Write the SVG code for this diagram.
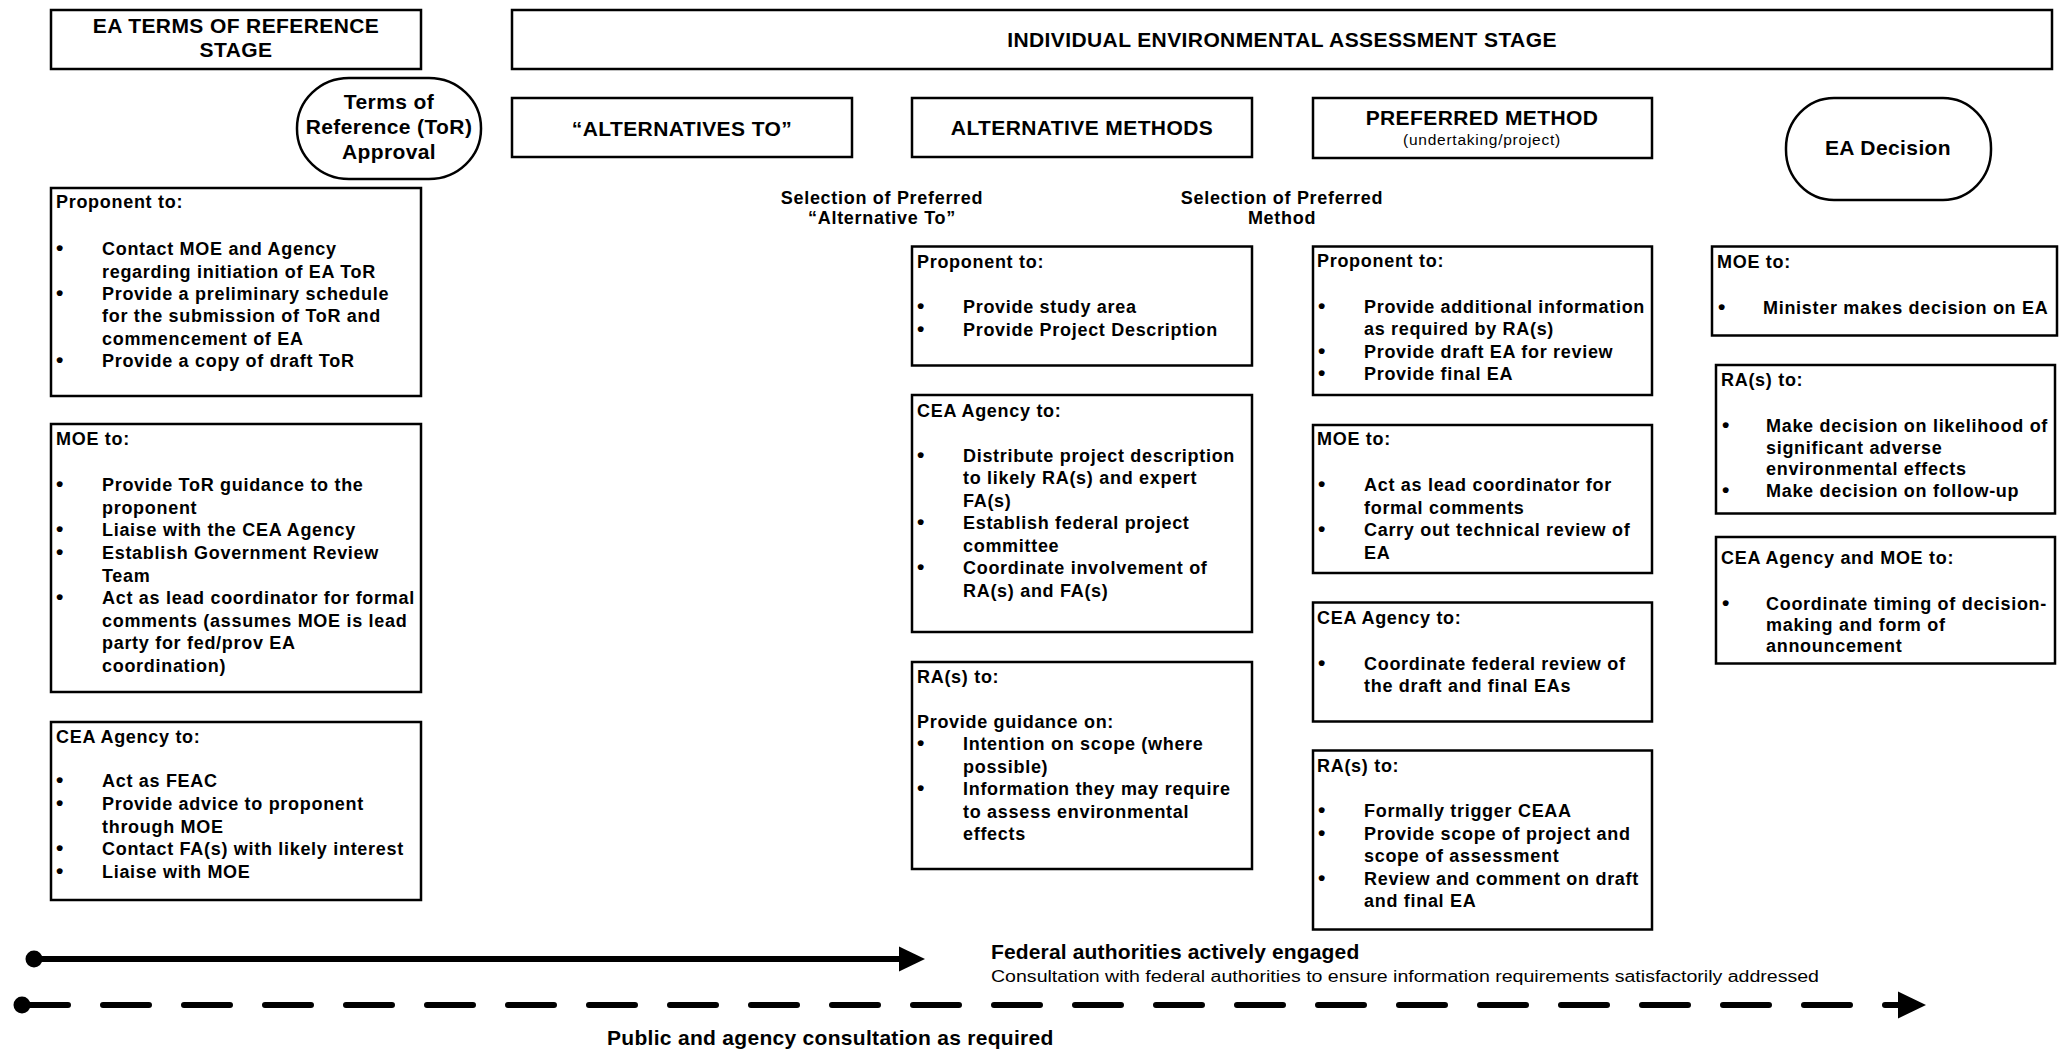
<svg xmlns="http://www.w3.org/2000/svg" width="2059" height="1051" viewBox="0 0 2059 1051">
<style>
.box{fill:#fff;stroke:#000;stroke-width:2.5}
.t{font-family:"Liberation Sans",Arial,sans-serif;font-weight:bold;font-size:18px;letter-spacing:0.7px;fill:#000}
.t .bu{font-size:21px}
.h{font-family:"Liberation Sans",Arial,sans-serif;font-weight:bold;font-size:21px;letter-spacing:0.4px;fill:#000}
.r{font-family:"Liberation Sans",Arial,sans-serif;font-weight:normal;fill:#000}
.mid{text-anchor:middle}
.line{stroke:#000;stroke-width:6;fill:none}
</style>
<rect width="2059" height="1051" fill="#fff"/>

<g id="tor-stage">
<rect class="box" x="51" y="10" width="370" height="59"/>
<text class="h mid"><tspan x="236" y="33">EA TERMS OF REFERENCE</tspan><tspan x="236" y="57">STAGE</tspan></text>
</g>

<g id="individual-stage">
<rect class="box" x="512" y="10" width="1540" height="59"/>
<text class="h mid" x="1282" y="47">INDIVIDUAL ENVIRONMENTAL ASSESSMENT STAGE</text>
</g>

<g id="tor-approval">
<rect class="box" x="297" y="78" width="184" height="101" rx="52" ry="50"/>
<text class="h mid"><tspan x="389" y="109">Terms of</tspan><tspan x="389" y="134">Reference (ToR)</tspan><tspan x="389" y="159">Approval</tspan></text>
</g>

<g id="alternatives-to">
<rect class="box" x="512" y="98" width="340" height="59"/>
<text class="h mid" x="682" y="136">“ALTERNATIVES TO”</text>
</g>

<g id="alternative-methods">
<rect class="box" x="912" y="98" width="340" height="59"/>
<text class="h mid" x="1082" y="135">ALTERNATIVE METHODS</text>
</g>

<g id="preferred-method">
<rect class="box" x="1313" y="98" width="339" height="60"/>
<text class="h mid" x="1482" y="125">PREFERRED METHOD</text>
<text class="r mid" x="1482" y="145" style="font-size:15.5px;letter-spacing:0.75px">(undertaking/project)</text>
</g>

<g id="ea-decision">
<rect class="box" x="1786" y="98" width="205" height="102" rx="48" ry="50"/>
<text class="h mid" x="1888" y="155">EA Decision</text>
</g>

<g id="selection-alt-to">
<text class="t mid"><tspan x="882" y="204">Selection of Preferred</tspan><tspan x="882" y="224">“Alternative To”</tspan></text>
</g>

<g id="selection-method">
<text class="t mid"><tspan x="1282" y="204">Selection of Preferred</tspan><tspan x="1282" y="224">Method</tspan></text>
</g>

<!-- Column 1 -->
<g id="tor-proponent">
<rect class="box" x="51" y="188" width="370" height="208"/>
<text class="t">
<tspan x="56" y="208">Proponent to:</tspan>
<tspan class="bu" x="56" y="255">•</tspan><tspan x="102" y="255">Contact MOE and Agency</tspan>
<tspan x="102" y="277.5">regarding initiation of EA ToR</tspan>
<tspan class="bu" x="56" y="300">•</tspan><tspan x="102" y="300">Provide a preliminary schedule</tspan>
<tspan x="102" y="322">for the submission of ToR and</tspan>
<tspan x="102" y="344.5">commencement of EA</tspan>
<tspan class="bu" x="56" y="367">•</tspan><tspan x="102" y="367">Provide a copy of draft ToR</tspan>
</text>
</g>

<g id="tor-moe">
<rect class="box" x="51" y="424" width="370" height="268"/>
<text class="t">
<tspan x="56" y="445">MOE to:</tspan>
<tspan class="bu" x="56" y="491">•</tspan><tspan x="102" y="491">Provide ToR guidance to the</tspan>
<tspan x="102" y="513.5">proponent</tspan>
<tspan class="bu" x="56" y="536">•</tspan><tspan x="102" y="536">Liaise with the CEA Agency</tspan>
<tspan class="bu" x="56" y="559">•</tspan><tspan x="102" y="559">Establish Government Review</tspan>
<tspan x="102" y="581.5">Team</tspan>
<tspan class="bu" x="56" y="604">•</tspan><tspan x="102" y="604">Act as lead coordinator for formal</tspan>
<tspan x="102" y="626.5">comments (assumes MOE is lead</tspan>
<tspan x="102" y="649">party for fed/prov EA</tspan>
<tspan x="102" y="672">coordination)</tspan>
</text>
</g>

<g id="tor-cea">
<rect class="box" x="51" y="722" width="370" height="178"/>
<text class="t">
<tspan x="56" y="743">CEA Agency to:</tspan>
<tspan class="bu" x="56" y="787">•</tspan><tspan x="102" y="787">Act as FEAC</tspan>
<tspan class="bu" x="56" y="810">•</tspan><tspan x="102" y="810">Provide advice to proponent</tspan>
<tspan x="102" y="832.5">through MOE</tspan>
<tspan class="bu" x="56" y="855">•</tspan><tspan x="102" y="855">Contact FA(s) with likely interest</tspan>
<tspan class="bu" x="56" y="877.5">•</tspan><tspan x="102" y="877.5">Liaise with MOE</tspan>
</text>
</g>

<!-- Column 2 -->
<g id="alt-proponent">
<rect class="box" x="912" y="246.5" width="340" height="119"/>
<text class="t">
<tspan x="917" y="268">Proponent to:</tspan>
<tspan class="bu" x="917" y="313">•</tspan><tspan x="963" y="313">Provide study area</tspan>
<tspan class="bu" x="917" y="335.5">•</tspan><tspan x="963" y="335.5">Provide Project Description</tspan>
</text>
</g>

<g id="alt-cea">
<rect class="box" x="912" y="395" width="340" height="237"/>
<text class="t">
<tspan x="917" y="416.5">CEA Agency to:</tspan>
<tspan class="bu" x="917" y="461.5">•</tspan><tspan x="963" y="461.5">Distribute project description</tspan>
<tspan x="963" y="484">to likely RA(s) and expert</tspan>
<tspan x="963" y="506.5">FA(s)</tspan>
<tspan class="bu" x="917" y="529">•</tspan><tspan x="963" y="529">Establish federal project</tspan>
<tspan x="963" y="551.5">committee</tspan>
<tspan class="bu" x="917" y="574">•</tspan><tspan x="963" y="574">Coordinate involvement of</tspan>
<tspan x="963" y="596.5">RA(s) and FA(s)</tspan>
</text>
</g>

<g id="alt-ra">
<rect class="box" x="912" y="662" width="340" height="207"/>
<text class="t">
<tspan x="917" y="683">RA(s) to:</tspan>
<tspan x="917" y="727.5">Provide guidance on:</tspan>
<tspan class="bu" x="917" y="750">•</tspan><tspan x="963" y="750">Intention on scope (where</tspan>
<tspan x="963" y="772.5">possible)</tspan>
<tspan class="bu" x="917" y="795">•</tspan><tspan x="963" y="795">Information they may require</tspan>
<tspan x="963" y="817.5">to assess environmental</tspan>
<tspan x="963" y="840">effects</tspan>
</text>
</g>

<!-- Column 3 -->
<g id="pref-proponent">
<rect class="box" x="1313" y="246.5" width="339" height="148.5"/>
<text class="t">
<tspan x="1317" y="266.5">Proponent to:</tspan>
<tspan class="bu" x="1318" y="312.5">•</tspan><tspan x="1364" y="312.5">Provide additional information</tspan>
<tspan x="1364" y="335">as required by RA(s)</tspan>
<tspan class="bu" x="1318" y="357.5">•</tspan><tspan x="1364" y="357.5">Provide draft EA for review</tspan>
<tspan class="bu" x="1318" y="380">•</tspan><tspan x="1364" y="380">Provide final EA</tspan>
</text>
</g>

<g id="pref-moe">
<rect class="box" x="1313" y="425" width="339" height="148"/>
<text class="t">
<tspan x="1317" y="445">MOE to:</tspan>
<tspan class="bu" x="1318" y="491">•</tspan><tspan x="1364" y="491">Act as lead coordinator for</tspan>
<tspan x="1364" y="513.5">formal comments</tspan>
<tspan class="bu" x="1318" y="536">•</tspan><tspan x="1364" y="536">Carry out technical review of</tspan>
<tspan x="1364" y="558.5">EA</tspan>
</text>
</g>

<g id="pref-cea">
<rect class="box" x="1313" y="602.5" width="339" height="119"/>
<text class="t">
<tspan x="1317" y="623.5">CEA Agency to:</tspan>
<tspan class="bu" x="1318" y="669.5">•</tspan><tspan x="1364" y="669.5">Coordinate federal review of</tspan>
<tspan x="1364" y="692">the draft and final EAs</tspan>
</text>
</g>

<g id="pref-ra">
<rect class="box" x="1313" y="750.5" width="339" height="179"/>
<text class="t">
<tspan x="1317" y="771.5">RA(s) to:</tspan>
<tspan class="bu" x="1318" y="817">•</tspan><tspan x="1364" y="817">Formally trigger CEAA</tspan>
<tspan class="bu" x="1318" y="840">•</tspan><tspan x="1364" y="840">Provide scope of project and</tspan>
<tspan x="1364" y="862">scope of assessment</tspan>
<tspan class="bu" x="1318" y="885">•</tspan><tspan x="1364" y="885">Review and comment on draft</tspan>
<tspan x="1364" y="907">and final EA</tspan>
</text>
</g>

<!-- Column 4 -->
<g id="dec-moe">
<rect class="box" x="1712" y="246.5" width="345" height="89"/>
<text class="t">
<tspan x="1717" y="267.5">MOE to:</tspan>
<tspan class="bu" x="1718" y="313.5">•</tspan><tspan x="1763" y="313.5">Minister makes decision on EA</tspan>
</text>
</g>

<g id="dec-ra">
<rect class="box" x="1716" y="365" width="339" height="148.5"/>
<text class="t">
<tspan x="1721" y="386">RA(s) to:</tspan>
<tspan class="bu" x="1722" y="432">•</tspan><tspan x="1766" y="432">Make decision on likelihood of</tspan>
<tspan x="1766" y="453.5">significant adverse</tspan>
<tspan x="1766" y="475">environmental effects</tspan>
<tspan class="bu" x="1722" y="497">•</tspan><tspan x="1766" y="497">Make decision on follow-up</tspan>
</text>
</g>

<g id="dec-cea-moe">
<rect class="box" x="1716" y="537" width="339" height="126.5"/>
<text class="t">
<tspan x="1721" y="564">CEA Agency and MOE to:</tspan>
<tspan class="bu" x="1722" y="610">•</tspan><tspan x="1766" y="610">Coordinate timing of decision-</tspan>
<tspan x="1766" y="631">making and form of</tspan>
<tspan x="1766" y="652">announcement</tspan>
</text>
</g>

<!-- Timeline connectors -->
<g id="connectors">
<circle cx="34" cy="959" r="8.5" fill="#000"/>
<line class="line" x1="34" y1="959" x2="902" y2="959"/>
<polygon points="899,946.5 925,959 899,971.5" fill="#000"/>

<circle cx="22" cy="1005" r="8.5" fill="#000"/>
<line class="line" x1="22" y1="1005" x2="1850" y2="1005" stroke-dasharray="46 35" stroke-linecap="round"/>
<line class="line" x1="1885" y1="1005" x2="1900" y2="1005" stroke-linecap="round"/>
<polygon points="1898,991.5 1926,1005 1898,1018.5" fill="#000"/>
</g>

<g id="labels">
<text class="h" x="991" y="959" style="letter-spacing:0.15px">Federal authorities actively engaged</text>
<text class="r" x="991" y="982" style="font-size:16px" textLength="828" lengthAdjust="spacingAndGlyphs">Consultation with federal authorities to ensure information requirements satisfactorily addressed</text>
<text class="h" x="607" y="1045" style="letter-spacing:0.3px">Public and agency consultation as required</text>
</g>
</svg>
